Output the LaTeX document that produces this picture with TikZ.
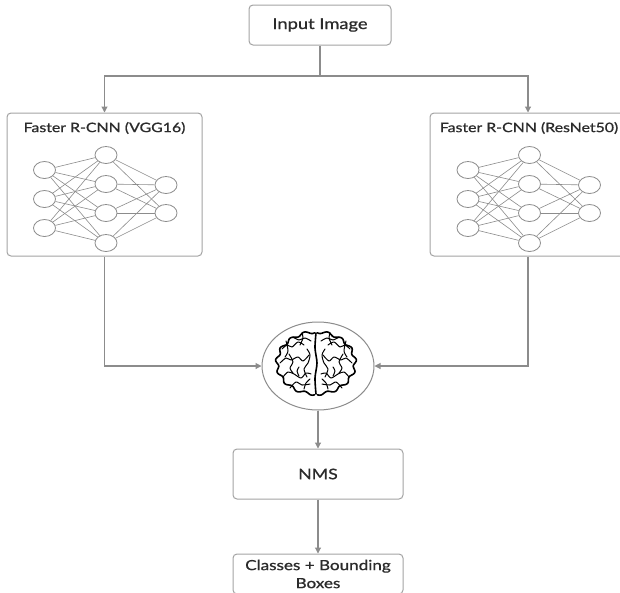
\documentclass[tikz,border=0pt]{standalone}
\usepackage{fontspec}
\setmainfont{Lato}[FakeStretch=1.22, FakeBold=0.9]
\usetikzlibrary{arrows.meta,shapes.geometric}
\definecolor{boxgray}{HTML}{A3A3A3}
\definecolor{linegray}{HTML}{8C8C8C}
\definecolor{textgray}{HTML}{2B2B2B}
\tikzstyle{flow box}=[
        draw = boxgray,
        line width = 1pt,
        rounded corners = 4pt,
        fill = white,
        text = textgray,
        align = center
    ]
\tikzstyle{box title}=[
    text = textgray,
    font = \fontsize{13}{16}\selectfont
]
\tikzstyle{neuron}=[
    draw = linegray,
    line width = 0.8pt,
    fill = white,
    ellipse,
    minimum width = 22pt,
    minimum height = 17pt,
    inner sep = 0pt
]
\tikzstyle{link}=[draw = linegray, line width = 1.1pt, -{Triangle[length=6pt,width=6pt]}]
\tikzstyle{wire}=[draw = linegray, line width = 0.6pt]
\tikzstyle{brain ink}=[
    draw = black,
    line width = 1pt,
    line join = round,
    line cap = round
]

\begin{document}
\begin{tikzpicture}[x=1pt, y=-1pt]
        \useasboundingbox (0,0) rectangle (620,592);

        \node[flow box, minimum width=142pt, minimum height=40pt, font=\fontsize{15}{18}\selectfont] (in) at (320,25) {Input Image};
        \node[flow box, minimum width=195pt, minimum height=143pt] (vgg) at (104.5,184.5) {};
        \node[flow box, minimum width=196pt, minimum height=143pt] (res) at (528,184.5) {};
        \node[box title] (vggtitle) at (104.5,128) {Faster R-CNN (VGG16)};
        \node[box title] (restitle) at (529,128) {Faster R-CNN (ResNet50)};

        % the two small networks: 3 inputs, 4 hidden, 2 outputs
        \foreach \net/\cx in {v/104.5, r/528} {
            \foreach \i/\y in {1/170, 2/199, 3/228}
                \node[neuron] (\net a\i) at (\cx-60,\y) {};
            \foreach \j/\y in {1/155, 2/184, 3/213, 4/243}
                \node[neuron] (\net b\j) at (\cx+1.5,\y) {};
            \foreach \k/\y in {1/185, 2/213}
                \node[neuron] (\net c\k) at (\cx+61.5,\y) {};
            \foreach \i in {1,2,3}
                \foreach \j in {1,...,4}
                    \draw[wire] (\net a\i) -- (\net b\j);
            \foreach \j in {1,...,4}
                \foreach \k in {1,2}
                    \draw[wire] (\net b\j) -- (\net c\k);
        }

        \node[draw=linegray, line width=1pt, ellipse, fill=white, minimum width=112pt, minimum height=88pt] (brain) at (318,366) {};
        % brain sketch, left half mirrored to the right
        \begin{scope}[shift={(316,363)}]
            \draw[brain ink, line width=1.6pt] plot[smooth] coordinates {(0,-30) (-1,-15) (1,0) (-1,15) (0,31)};
            \foreach \s in {1,-1} {
                \begin{scope}[xscale=\s]
                    \draw[brain ink, line width=1.6pt] plot[domain=92:268, samples=80, smooth] ({(39+1.6*sin(16*\x))*cos(\x)}, {(31+1.4*sin(16*\x))*sin(\x)});
                    \draw[brain ink] plot[smooth] coordinates {(-34,-14) (-29,-18) (-24,-16) (-18,-21) (-12,-18)};
                    \draw[brain ink] plot[smooth] coordinates {(-36,0) (-30,-5) (-25,-3) (-18,-6) (-13,-2) (-7,-8)};
                    \draw[brain ink] plot[smooth] coordinates {(-33,14) (-28,9) (-22,11) (-15,15) (-10,10) (-5,11)};
                    \draw[brain ink] plot[smooth] coordinates {(-26,25) (-20,19) (-14,22) (-6,21)};
                    \draw[brain ink] plot[smooth] coordinates {(-23,-26) (-17,-23) (-11,-25) (-5,-22)};
                    \draw[brain ink] plot[smooth] coordinates {(-27,-9) (-23,-1) (-26,5) (-23,10)};
                    \draw[brain ink] plot[smooth] coordinates {(-9,-14) (-6,-8) (-8,0) (-12,6) (-9,14)};
                    \draw[brain ink] plot[smooth] coordinates {(-17,4) (-19,8) (-17,13)};
                    \draw[brain ink] plot[smooth] coordinates {(-30,-22) (-28,-12) (-31,-6)};
                    \draw[brain ink] plot[smooth] coordinates {(-14,-30) (-13,-25) (-16,-18)};
                    \draw[brain ink] plot[smooth] coordinates {(-12,26) (-10,20) (-6,16)};
                \end{scope}
            }
        \end{scope}

        \node[flow box, minimum width=170pt, minimum height=50pt, font=\fontsize{14.5}{18}\selectfont] (nms) at (318,474) {NMS};
        \node[flow box, minimum width=170pt, minimum height=40pt, font=\fontsize{14}{18}\selectfont] (out) at (318,574) {Classes + Bounding\\Boxes};

        \coordinate (split) at (320,76);
        \draw[linegray, line width=1.1pt] (in) -- (split);
        \draw[link] (split) -| (vgg);
        \draw[link] (split) -| (res);
        \draw[link] (vgg) |- (brain);
        \draw[link] (res) |- (brain);
        \draw[link] (brain) -- (nms);
        \draw[link] (nms) -- (out);

    \end{tikzpicture}
\end{document}
